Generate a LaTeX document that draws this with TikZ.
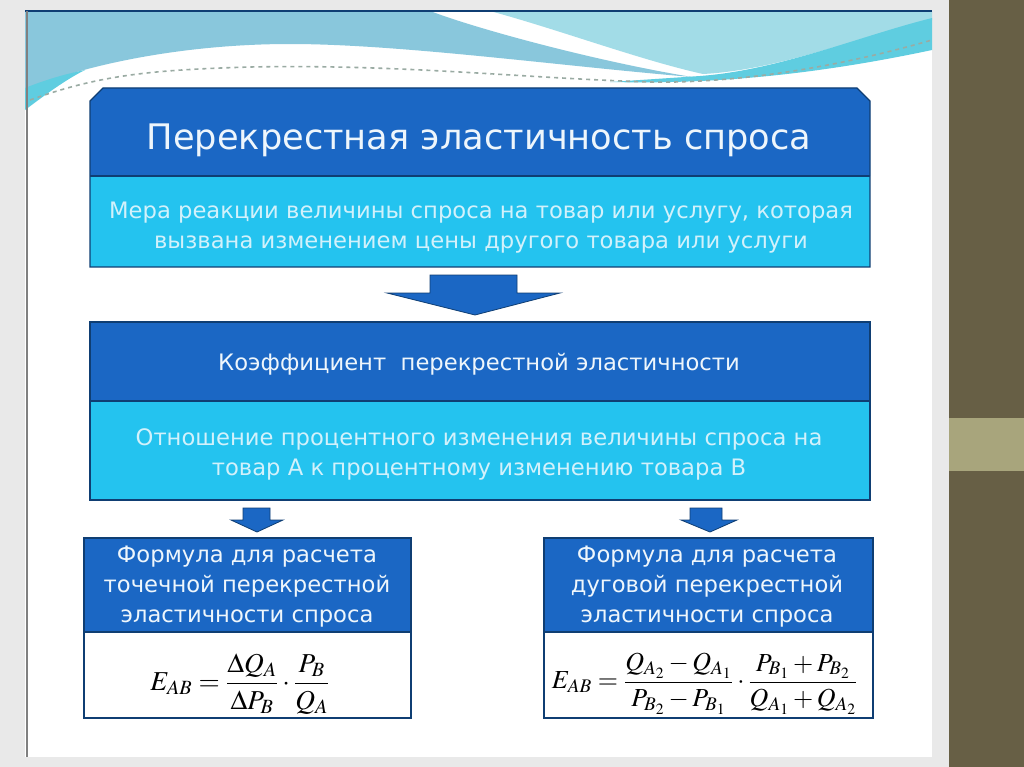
\documentclass[tikz,border=0pt]{standalone}
\usepackage{amsmath}
\usepackage{mathptmx}
\usepackage[no-math]{fontspec}
\setmainfont{DejaVu Sans}
\definecolor{pagegray}{HTML}{E9E9E9}
\definecolor{olive}{HTML}{675F45}
\definecolor{olivelight}{HTML}{A8A57C}
\definecolor{hdrblue}{HTML}{1B67C4}
\definecolor{lightcyan}{HTML}{24C3EF}
\definecolor{navy}{HTML}{0F3E73}
\definecolor{paletext}{HTML}{D2F1FB}
\definecolor{hdrtext}{HTML}{EEF6FC}
\definecolor{bannerblue}{HTML}{89C7DC}
\definecolor{bannercyan}{HTML}{A2DCE7}
\definecolor{swoosh}{HTML}{5FCDE0}
\definecolor{dashgray}{HTML}{9AABA3}
\tikzset{
  hdrfill/.style={fill=hdrblue},
  lowfill/.style={fill=lightcyan},
  frame/.style={draw=navy, line width=0.9pt},
  blockarrow/.style={fill=hdrblue, draw=navy, line width=0.6pt},
  titletext/.style={text=hdrtext, font=\fontsize{26.4}{30}\selectfont, inner sep=0pt},
  hdrtxt/.style={text=hdrtext, font=\fontsize{17}{22.5}\selectfont, align=center, inner sep=0pt},
  lowtxt/.style={text=paletext, font=\fontsize{17}{22.5}\selectfont, align=center, inner sep=0pt},
  formula/.style={text=black, inner sep=0pt}
}
\begin{document}
\begin{tikzpicture}[x=0.75pt,y=-0.75pt]
\useasboundingbox (0,0) rectangle (1024,767);
% page background
\fill[pagegray] (0,0) rectangle (1024,767);
\fill[white] (25,11) rectangle (932,757);
\fill[olive] (949,0) rectangle (1024,767);
\fill[olivelight] (949,418) rectangle (1024,471);
% banner
\fill[bannerblue] (25,11) -- (430,11) .. controls (480,30) and (600,62) .. (692,77)
   .. controls (560,66) and (400,44) .. (290,44) .. controls (180,44) and (80,66) .. (25,90) -- cycle;
\fill[bannercyan] (490,11) -- (932,11) -- (932,20) .. controls (860,36) and (780,70) .. (703,74)
   .. controls (640,60) and (560,30) .. (490,11) -- cycle;
\fill[swoosh] (932,18) .. controls (860,36) and (780,70) .. (700,76)
   .. controls (670,78) and (640,80) .. (610,82) .. controls (700,84) and (800,78) .. (932,50) -- cycle;
\fill[swoosh] (25,88) .. controls (45,80) and (65,74) .. (85,70) .. controls (65,80) and (45,95) .. (25,110) -- cycle;
\draw[dashgray, dashed, line width=1.2pt] (30,100) .. controls (100,75) and (150,70) .. (250,67)
   .. controls (400,64) and (520,78) .. (650,82) .. controls (700,83) and (800,78) .. (932,40);
\draw[navy, line width=0.8pt] (25,11) -- (932,11);
\draw[gray, line width=0.8pt] (27,11) -- (27,757);
% box 1
\path[hdrfill] (90,176) -- (90,101) -- (103,88) -- (857,88) -- (870,101) -- (870,176) -- cycle;
\path[lowfill] (90,176) rectangle (870,267);
\draw[frame] (90,267) -- (90,101) -- (103,88) -- (857,88) -- (870,101) -- (870,267) -- cycle;
\draw[navy, line width=0.9pt] (90,176) -- (870,176);
\node[titletext] (title) at (479,140) {Перекрестная эластичность спроса};
\node[lowtxt] (def) at (481,228) {Мера реакции величины спроса на товар или услугу, которая\\вызвана изменением цены другого товара или услуги};
% big arrow
\path[blockarrow] (430,275) -- (517,275) -- (517,293) -- (560,293) -- (475,315) -- (387,293) -- (430,293) -- cycle;
% box 2
\path[hdrfill] (90,322) rectangle (870,401);
\path[lowfill] (90,401) rectangle (870,500);
\draw[frame] (90,322) rectangle (870,500);
\draw[navy, line width=0.9pt] (90,401) -- (870,401);
\node[hdrtxt] (coef) at (479,364) {Коэффициент\ \ перекрестной эластичности};
\node[lowtxt] (ratio) at (479,454) {Отношение процентного изменения величины спроса на\\товар А к процентному изменению товара В};
% small arrows
\path[blockarrow] (243,508) -- (270,508) -- (270,520) -- (283,520) -- (257,532) -- (231,520) -- (243,520) -- cycle;
\path[blockarrow] (690,508) -- (722,508) -- (722,520) -- (737,520) -- (710,532) -- (681,520) -- (690,520) -- cycle;
% box 3
\path[hdrfill] (84,538) rectangle (411,632);
\path[fill=white] (84,632) rectangle (411,718);
\draw[frame] (84,538) rectangle (411,718);
\draw[navy, line width=0.9pt] (84,632) -- (411,632);
\node[hdrtxt] (pointhdr) at (247,587) {Формула для расчета\\точечной перекрестной\\эластичности спроса};
\node[formula] (pointf) at (240,684) {\fontsize{20.5}{24}\selectfont$\displaystyle E_{AB}=\frac{\Delta Q_A}{\Delta P_B}\cdot\frac{P_B}{Q_A}$};
% box 4
\path[hdrfill] (544,538) rectangle (873,632);
\path[fill=white] (544,632) rectangle (873,718);
\draw[frame] (544,538) rectangle (873,718);
\draw[navy, line width=0.9pt] (544,632) -- (873,632);
\node[hdrtxt] (archdr) at (707,587) {Формула для расчета\\дуговой перекрестной\\эластичности спроса};
\node[formula] (arcf) at (705,684) {\fontsize{19.5}{24}\selectfont$\displaystyle E_{AB}=\frac{Q_{A_2}-Q_{A_1}}{P_{B_2}-P_{B_1}}\cdot\frac{P_{B_1}+P_{B_2}}{Q_{A_1}+Q_{A_2}}$};
\end{tikzpicture}
\end{document}
